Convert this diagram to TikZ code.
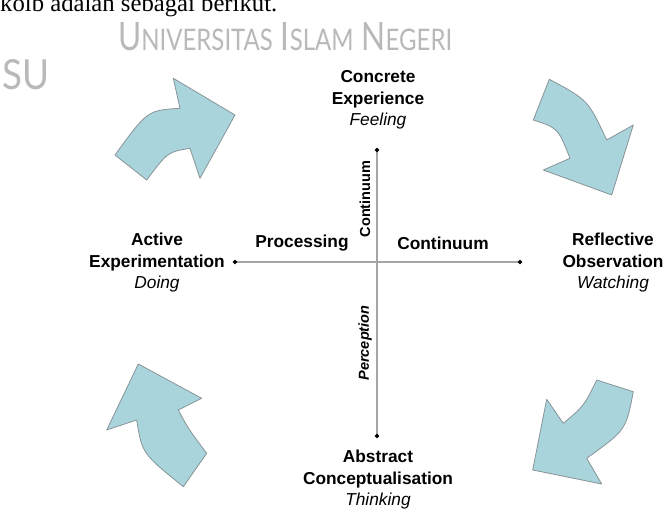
\documentclass[tikz,border=0pt]{standalone}
\usepackage{fontspec}
\setmainfont{Liberation Sans}
\newfontfamily\bodyserif{Liberation Serif}
\newfontfamily\markfont{Lato}
\usetikzlibrary{arrows.meta}
\definecolor{arrowfill}{RGB}{170,212,220}
\definecolor{arrowline}{RGB}{135,148,152}
\definecolor{axisgray}{RGB}{165,165,165}
\definecolor{markgray}{RGB}{185,185,185}
\begin{document}
\begin{tikzpicture}[x=1pt,y=-1pt,
  lbl/.style={font=\fontsize{17.3}{21.5}\selectfont\bfseries, align=center, inner sep=0pt},
  axislbl/.style={font=\fontsize{17.3}{20}\selectfont\bfseries, inner sep=0pt},
  vaxislbl/.style={font=\fontsize{14.5}{17}\selectfont\bfseries, inner sep=0pt, rotate=90},
  axisline/.style={draw=axisgray, line width=1.6pt,
    {Circle[length=4pt,color=black]}-{Circle[length=4pt,color=black]}},
  cyclearrow/.style={fill=arrowfill, draw=arrowline, line width=0.8pt, line join=round}]
\clip (0,0) rectangle (665,511);
\fill[white] (0,0) rectangle (665,511);

% running text and watermark above the figure
\node[anchor=base west, inner sep=0pt, font=\bodyserif\fontsize{24.7}{28}\selectfont] (intro) at (0,12) {kolb adalah sebagai berikut.};
\node[anchor=base west, inner sep=0pt, text=markgray] (mark) at (118,51)
  {\resizebox{334pt}{28pt}{\markfont\fontsize{35}{40}\selectfont U\fontsize{26.6}{30}\selectfont NIVERSITAS\fontsize{35}{40}\selectfont\ I\fontsize{26.6}{30}\selectfont SLAM\fontsize{35}{40}\selectfont\ N\fontsize{26.6}{30}\selectfont EGERI}};
\node[anchor=base west, inner sep=0pt, text=markgray] (marksu) at (2,90)
  {\resizebox{47pt}{30pt}{\markfont\fontsize{35}{40}\selectfont SU}};

% four stages of the cycle
\node[lbl] (ce) at (378,100) {Concrete\\Experience\\{\mdseries\itshape Feeling}};
\node[lbl] (ro) at (613,263) {Reflective\\Observation\\{\mdseries\itshape Watching}};
\node[lbl] (ac) at (378,480) {Abstract\\Conceptualisation\\{\mdseries\itshape Thinking}};
\node[lbl] (ae) at (157,263) {Active\\Experimentation\\{\mdseries\itshape Doing}};

% axis end points
\coordinate (top) at (377,148);
\coordinate (bot) at (377,438);
\coordinate (lft) at (233,262);
\coordinate (rgt) at (522,262);
\draw[axisline] (top) -- (bot);
\draw[axisline] (lft) -- (rgt);

% axis captions
\node[axislbl] (proc) at (302,243) {Processing};
\node[axislbl] (cont) at (443,243) {Continuum};
\node[vaxislbl] (vcont) at (365,199) {Continuum};
\node[vaxislbl, font=\fontsize{14.5}{17}\selectfont\bfseries\itshape] (perc) at (365,343) {Perception};

% curved block arrows between the stages
\path[cyclearrow] (115,155) -- (146.7,180) .. controls (167.7,152) .. (190,148.3)
  -- (200,178.3) -- (235,115) -- (173.3,78.3) -- (180,108.3)
  .. controls (147.5,110.3) .. cycle;
\path[cyclearrow] (549.3,79.3) -- (533.3,120) .. controls (558,128) .. (570,158.3)
  -- (543.3,170) -- (611.7,195) -- (633.3,125) -- (606.7,140)
  .. controls (588,100) .. cycle;
\path[cyclearrow] (596.7,380) -- (633.3,391.7) .. controls (626,430) .. (586.7,458.3)
  -- (601.7,484) -- (532.7,470) -- (546.7,399.3) -- (563.3,423.3)
  .. controls (584,406) .. cycle;
\path[cyclearrow] (138.3,364) -- (201.7,398.3) -- (178.3,410)
  .. controls (188,428.3) .. (206.7,453.3) -- (183.3,486.7)
  .. controls (142,453.3) .. (136.7,420) -- (106.7,430) -- cycle;
\end{tikzpicture}
\end{document}
